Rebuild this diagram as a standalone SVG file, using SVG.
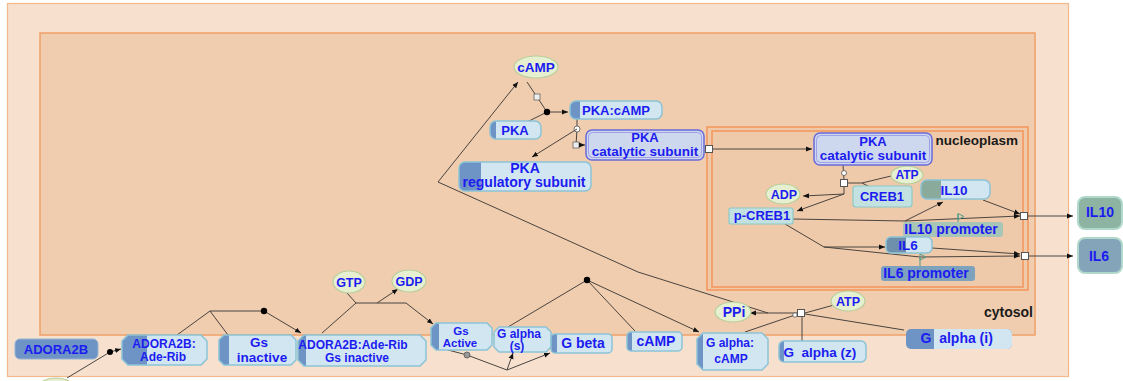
<svg xmlns="http://www.w3.org/2000/svg" width="1123" height="381" viewBox="0 0 1123 381">
<style>
.t{font-family:"Liberation Sans",Arial,sans-serif;font-weight:bold;fill:#1c1cf0;text-anchor:middle}
.lbl{font-family:"Liberation Sans",Arial,sans-serif;font-weight:bold;fill:#1a1a1a;text-anchor:end}
.dk{fill:#6e93c5}
.lt{fill:#d2e6f2}
.ol{fill:none;stroke:#8ac3d6;stroke-width:1.5}
.el{fill:#e6efd0;stroke:#b9cf9c;stroke-width:1.2}
.ln{fill:none;stroke:#4a4440;stroke-width:1}
.ar{marker-end:url(#arr)}
.dot{fill:#000}
.sq{fill:#fff;stroke:#555;stroke-width:1}
.cat{fill:#cdd8ee;stroke:#6a6ad8;stroke-width:1.5}
.cati{fill:none;stroke:#a0a0ea;stroke-width:1}
.teal{fill:#c3e1e0;stroke:#8ccac8;stroke-width:1.2}
.prom{fill:none;stroke:#4f9a88;stroke-width:1}
</style>
<defs>
<marker id="arr" markerWidth="6" markerHeight="6" refX="6" refY="3" orient="auto" markerUnits="userSpaceOnUse">
<path d="M0,0.5 L6,3 L0,5.5 z" fill="#111"/>
</marker>
</defs>

<g id="compartments">
<rect x="7.5" y="3.5" width="1061" height="373" fill="#f7e1ce" stroke="#f4b88c" stroke-width="1.2"/>
<rect x="40" y="33" width="995" height="302" fill="#f0cdae" stroke="#f0a068" stroke-width="1.5"/>
<rect x="707" y="127" width="321" height="163" fill="#efcaaa" stroke="#f5955a" stroke-width="1.5"/>
<rect x="712" y="131" width="311" height="156" fill="none" stroke="#f5955a" stroke-width="1.5"/>
<text class="lbl" x="1018" y="145" font-size="13.5">nucleoplasm</text>
<text class="lbl" x="1033" y="317" font-size="14">cytosol</text>
</g>

<g id="connectors">
<path class="ln" d="M67,378 L110,352"/>
<path class="ln ar" d="M110,352 L121,349"/>
<circle class="dot" cx="110" cy="352" r="3"/>
<path class="ln" d="M177,335 L210,311 L228,335 M210,311 L264,311"/>
<path class="ln ar" d="M264,311 L301,333"/>
<circle class="dot" cx="264" cy="311" r="3.2"/>
<path class="ln" d="M322,333 L356,303 L347,293 M356,303 L406,303"/>
<path class="ln ar" d="M377,303 L398,289"/>
<path class="ln ar" d="M406,303 L433,324"/>
<path class="ln" d="M448,350 L467,355 L507,370"/>
<circle cx="467" cy="355" r="3" fill="#999" stroke="#555" stroke-width="0.8"/>
<path class="ln ar" d="M507,370 L513,353"/>
<path class="ln ar" d="M507,370 L550,353"/>
<path class="ln" d="M508,327 L587,280 L635,331"/>
<path class="ln ar" d="M587,280 L699,332"/>
<circle class="dot" cx="587" cy="280" r="3.2"/>
<path class="ln" d="M834,305 L805,313"/>
<path class="ln" d="M798,313 L768,313"/>
<path class="ln ar" d="M768,313 L750,313"/>
<path class="ln ar" d="M768,313 L638,272 L438,182 L518,82"/>
<path class="ln" d="M745,332 L795,315"/>
<circle cx="795" cy="315" r="2.2" fill="#fff" stroke="#555" stroke-width="0.8"/>
<path class="ln" d="M802,341 L802,317"/>
<path class="ln" d="M805,314 L904,330"/>
<rect class="sq" x="797.5" y="309.5" width="7" height="7"/>
<path class="ln" d="M527,82 L537,97 L547,112 M527,122 L547,112"/>
<rect x="534" y="94" width="6" height="6" fill="#eee" stroke="#666" stroke-width="0.8"/>
<path class="ln ar" d="M547,112 L568,112"/>
<circle class="dot" cx="547" cy="112" r="3.2"/>
<path class="ln" d="M577,118 L577,129 L576,145"/>
<circle cx="577" cy="129" r="3" fill="#fff" stroke="#555" stroke-width="0.8"/>
<path class="ln ar" d="M577,129 L532,157"/>
<rect x="573" y="142" width="6" height="6" fill="#eee" stroke="#666" stroke-width="0.8"/>
<path class="ln ar" d="M579,145 L585,145"/>
<path class="ln ar" d="M712,149 L812,149"/>
<rect class="sq" x="705.5" y="145.5" width="7" height="7"/>
<path class="ln" d="M843,165 L844,180 M848,183 L862,183 L891,176 M862,183 L870,187 M844,186 L844,194"/>
<circle cx="844" cy="173" r="2.5" fill="#fff" stroke="#555" stroke-width="0.8"/>
<rect class="sq" x="840.5" y="179.5" width="7" height="7"/>
<path class="ln ar" d="M844,194 L803,196"/>
<path class="ln ar" d="M844,194 L797,211"/>
<path class="ln" d="M793,219 L905,221"/>
<path class="ln ar" d="M905,221 L943,202"/>
<path class="ln ar" d="M905,221 L1020,216"/>
<path class="ln ar" d="M983,200 L1020,214"/>
<path class="prom" d="M958,223 L958,214"/>
<polygon points="958,213.5 964,216.5 958,219.5" fill="none" stroke="#4f9a88" stroke-width="1"/>
<rect class="sq" x="1020.5" y="212.5" width="7" height="7"/>
<path class="ln ar" d="M1028,216 L1073,216"/>
<path class="ln" d="M785,224 L824,247"/>
<path class="ln ar" d="M824,247 L885,247"/>
<path class="ln ar" d="M824,247 L920,257 L1020,256"/>
<path class="ln ar" d="M932,248 L1020,254"/>
<path class="prom" d="M920,266 L920,258"/>
<polygon points="920,254 926,257 920,260" fill="none" stroke="#4f9a88" stroke-width="1"/>
<rect class="sq" x="1021.5" y="252.5" width="7" height="7"/>
<path class="ln ar" d="M1029,256 L1073,256"/>
</g>

<g id="ellipse-bottom-left"><ellipse class="el" cx="56" cy="388" rx="18" ry="10" stroke="#9fd08f"/></g>

<g id="ADORA2B">
<rect x="15" y="339" width="83" height="20" rx="5" fill="#6e93c5" stroke="#93b3d3"/>
<text class="t" x="56" y="354" font-size="13">ADORA2B</text>
</g>

<g id="ADORA2B-AdeRib">
<polygon class="lt" points="128,335 201,335 207,341 207,359 201,365 128,365 122,359 122,341"/>
<polygon class="dk" points="128,335 147,335 147,365 128,365 122,359 122,341"/>
<polygon class="ol" points="128,335 201,335 207,341 207,359 201,365 128,365 122,359 122,341"/>
<text class="t" x="164" y="348" font-size="12">ADORA2B:</text>
<text class="t" x="163" y="361" font-size="12">Ade-Rib</text>
</g>

<g id="Gs-inactive">
<polygon class="lt" points="224,335 291,335 296,340 296,360 291,365 224,365 219,360 219,340"/>
<polygon class="dk" points="224,335 229,335 229,365 224,365 219,360 219,340"/>
<polygon class="ol" points="224,335 291,335 296,340 296,360 291,365 224,365 219,360 219,340"/>
<text class="t" x="259" y="347" font-size="13.5">Gs</text>
<text class="t" x="262" y="362" font-size="13.5">inactive</text>
</g>

<g id="complex-Gs-inactive">
<polygon class="lt" points="304,335 420,335 426,341 426,360 420,366 304,366 298,360 298,341"/>
<polygon class="dk" points="304,335 306,335 306,366 304,366 298,360 298,341"/>
<polygon class="ol" points="304,335 420,335 426,341 426,360 420,366 304,366 298,360 298,341"/>
<text class="t" x="353" y="349" font-size="12">ADORA2B:Ade-Rib</text>
<text class="t" x="357" y="362" font-size="12">Gs inactive</text>
</g>

<g id="Gs-Active">
<polygon class="lt" points="436,323 487,323 492,328 492,345 487,350 436,350 431,345 431,328"/>
<polygon class="dk" points="436,323 439,323 439,350 436,350 431,345 431,328"/>
<polygon class="ol" points="436,323 487,323 492,328 492,345 487,350 436,350 431,345 431,328"/>
<text class="t" x="461" y="335" font-size="11.5">Gs</text>
<text class="t" x="460" y="347" font-size="11.5">Active</text>
</g>

<g id="G-alpha-s">
<polygon class="lt" points="499,327 546,327 551,332 551,347 546,352 499,352 494,347 494,332"/>
<polygon class="ol" points="499,327 546,327 551,332 551,347 546,352 499,352 494,347 494,332"/>
<text class="t" x="519" y="338" font-size="12">G alpha</text>
<text class="t" x="517" y="350" font-size="12">(s)</text>
</g>

<g id="G-beta">
<rect class="dk" x="551" y="334" width="61" height="19" rx="4"/>
<path class="lt" d="M557,334 H608 A4,4 0 0 1 612,338 V349 A4,4 0 0 1 608,353 H557 Z"/>
<rect class="ol" x="551" y="334" width="61" height="19" rx="4"/>
<text class="t" x="583" y="348" font-size="14">G beta</text>
</g>

<g id="cAMP-bottom">
<rect class="dk" x="627" y="332" width="55" height="19" rx="4"/>
<path class="lt" d="M632,332 H678 A4,4 0 0 1 682,336 V347 A4,4 0 0 1 678,351 H632 Z"/>
<rect class="ol" x="627" y="332" width="55" height="19" rx="4"/>
<text class="t" x="656" y="346" font-size="14">cAMP</text>
</g>

<g id="G-alpha-cAMP">
<polygon class="lt" points="703,333 762,333 768,339 768,364 762,370 703,370 697,364 697,339"/>
<polygon class="dk" points="697,339 703,333 703,370 697,364"/>
<polygon class="ol" points="703,333 762,333 768,339 768,364 762,370 703,370 697,364 697,339"/>
<text class="t" x="730" y="347" font-size="12">G alpha:</text>
<text class="t" x="731" y="363" font-size="12">cAMP</text>
</g>

<g id="G-alpha-z">
<rect class="dk" x="779" y="341" width="87" height="21" rx="5"/>
<path class="lt" d="M784,341 H861 A5,5 0 0 1 866,346 V357 A5,5 0 0 1 861,362 H784 Z"/>
<rect class="ol" x="779" y="341" width="87" height="21" rx="5"/>
<text class="t" x="820" y="357" font-size="13.5" xml:space="preserve">G  alpha (z)</text>
</g>

<g id="G-alpha-i">
<rect class="dk" x="906" y="329" width="106" height="20" rx="5"/>
<path class="lt" d="M934,329 H1007 A5,5 0 0 1 1012,334 V344 A5,5 0 0 1 1007,349 H934 Z"/>
<text class="t" x="926" y="343" font-size="14">G</text>
<text class="t" x="966" y="343" font-size="14">alpha (i)</text>
</g>

<g id="GTP"><ellipse class="el" cx="349" cy="282" rx="16" ry="11"/><text class="t" x="349" y="287" font-size="12.5">GTP</text></g>
<g id="GDP"><ellipse class="el" cx="409" cy="281" rx="17" ry="11"/><text class="t" x="409" y="286" font-size="12.5">GDP</text></g>
<g id="PPi"><ellipse class="el" cx="733" cy="312" rx="18" ry="10"/><text class="t" x="734" y="317" font-size="14">PPi</text></g>
<g id="ATP-cytosol"><ellipse class="el" cx="848" cy="301" rx="17" ry="10"/><text class="t" x="848" y="306" font-size="12.5">ATP</text></g>
<g id="cAMP-top"><ellipse class="el" cx="536" cy="67" rx="22" ry="11"/><text class="t" x="536" y="72" font-size="13.5">cAMP</text></g>
<g id="ATP-nucleus"><ellipse class="el" cx="907" cy="175" rx="16" ry="9"/><text class="t" x="907" y="179" font-size="12">ATP</text></g>
<g id="ADP"><ellipse class="el" cx="783" cy="194" rx="17" ry="10"/><text class="t" x="784" y="199" font-size="12.5">ADP</text></g>

<g id="PKA-cAMP">
<rect class="dk" x="570" y="101" width="92" height="18" rx="6"/>
<path class="lt" d="M580,101 H656 A6,6 0 0 1 662,107 V113 A6,6 0 0 1 656,119 H580 Z"/>
<rect class="ol" x="570" y="101" width="92" height="18" rx="6"/>
<text class="t" x="616" y="115" font-size="13">PKA:cAMP</text>
</g>

<g id="PKA">
<rect class="dk" x="490" y="121" width="51" height="18" rx="6"/>
<path class="lt" d="M496,121 H535 A6,6 0 0 1 541,127 V133 A6,6 0 0 1 535,139 H496 Z"/>
<rect class="ol" x="490" y="121" width="51" height="18" rx="6"/>
<text class="t" x="515" y="135" font-size="13">PKA</text>
</g>

<g id="PKA-catalytic-cytosol">
<rect class="cat" x="586" y="130" width="118" height="30" rx="6"/>
<rect class="cati" x="588.5" y="132.5" width="113" height="25" rx="4"/>
<text class="t" x="645" y="142" font-size="13">PKA</text>
<text class="t" x="645" y="155.5" font-size="13.5">catalytic subunit</text>
</g>

<g id="PKA-regulatory">
<rect class="dk" x="459" y="162" width="132" height="29" rx="6"/>
<path class="lt" d="M481,162 H585 A6,6 0 0 1 591,168 V185 A6,6 0 0 1 585,191 H481 Z"/>
<rect class="ol" x="459" y="162" width="132" height="29" rx="6"/>
<text class="t" x="525" y="173" font-size="14">PKA</text>
<text class="t" x="524" y="187" font-size="14">regulatory subunit</text>
</g>

<g id="PKA-catalytic-nucleus">
<rect class="cat" x="814" y="133" width="118" height="32" rx="6"/>
<rect class="cati" x="816.5" y="135.5" width="113" height="27" rx="4"/>
<text class="t" x="873" y="146" font-size="13">PKA</text>
<text class="t" x="873" y="159.5" font-size="13.5">catalytic subunit</text>
</g>

<g id="CREB1">
<rect class="teal" x="853" y="186" width="59" height="21" rx="3"/>
<text class="t" x="882" y="201" font-size="13">CREB1</text>
</g>

<g id="p-CREB1">
<rect class="teal" x="729" y="208" width="64" height="16" rx="2"/>
<text class="t" x="762" y="220" font-size="13">p-CREB1</text>
</g>

<g id="IL10-nucleus">
<rect x="921" y="180" width="69" height="19" rx="6" fill="#8aab9c"/>
<path class="lt" d="M941,180 H984 A6,6 0 0 1 990,186 V193 A6,6 0 0 1 984,199 H941 Z"/>
<rect class="ol" x="921" y="180" width="69" height="19" rx="6"/>
<text class="t" x="954" y="195" font-size="13.5">IL10</text>
</g>

<g id="IL10-promoter">
<rect x="903" y="222" width="100" height="15" rx="3" fill="#a7c6b8"/>
<text class="t" x="951" y="234" font-size="14">IL10 promoter</text>
</g>

<g id="IL6-nucleus">
<rect x="886" y="237" width="46" height="16" rx="5" fill="#6f90ad"/>
<path class="lt" d="M906,237 H927 A5,5 0 0 1 932,242 V248 A5,5 0 0 1 927,253 H906 Z"/>
<rect class="ol" x="886" y="237" width="46" height="16" rx="5"/>
<text class="t" x="908" y="250" font-size="13.5">IL6</text>
</g>

<g id="IL6-promoter">
<rect x="881" y="266" width="94" height="15" rx="3" fill="#7fa2bc"/>
<text class="t" x="926" y="278" font-size="14">IL6 promoter</text>
</g>

<g id="IL10-out">
<rect x="1078" y="197" width="44" height="32" rx="7" fill="#8db3a3" stroke="#b0d8cb" stroke-width="2"/>
<text class="t" x="1100" y="217" font-size="14">IL10</text>
</g>

<g id="IL6-out">
<rect x="1078" y="238" width="44" height="35" rx="7" fill="#84a4b9" stroke="#b0d8cb" stroke-width="2"/>
<text class="t" x="1099" y="261" font-size="14">IL6</text>
</g>
</svg>
